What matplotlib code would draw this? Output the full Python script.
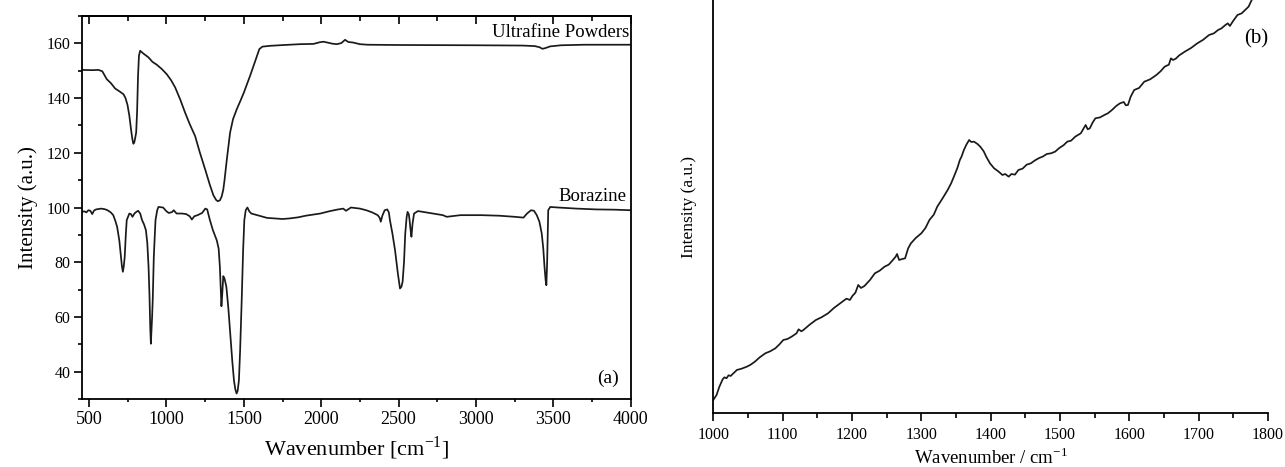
import matplotlib
matplotlib.use("Agg")
import matplotlib.pyplot as plt
from matplotlib.ticker import MultipleLocator

plt.rcParams['font.family'] = ['Liberation Serif', 'DejaVu Serif']
plt.rcParams['mathtext.fontset'] = 'custom'
plt.rcParams['mathtext.rm'] = 'Liberation Serif'

# ---------------- Panel (a): FTIR ----------------
ufp_wavenumber = [453, 520, 560, 585, 614, 640, 668, 700, 722, 735, 748, 760, 772, 780, 786, 792, 798,
                  804, 810, 816, 822, 830, 850, 883, 910, 937, 970, 1002, 1030, 1056, 1090, 1120, 1150,
                  1185, 1215, 1250, 1280, 1303, 1320, 1331, 1345, 1357, 1367, 1375, 1390, 1411, 1430,
                  1454, 1480, 1500, 1540, 1575, 1600, 1620, 1669, 1760, 1863, 1950, 1990, 2014, 2040,
                  2070, 2100, 2130, 2154, 2175, 2206, 2250, 2300, 2500, 3000, 3300, 3380, 3410, 3430,
                  3450, 3480, 3550, 3700, 4000]
ufp_intensity = [150.3, 150.2, 150.3, 149.8, 146.9, 145.5, 143.5, 142.3, 141.4, 140.0, 137.5, 133.5,
                 128.0, 124.8, 123.3, 123.8, 125.5, 127.4, 135.0, 148.0, 155.5, 157.3, 156.3, 154.9,
                 153.2, 152.2, 150.6, 148.7, 146.5, 143.9, 139.3, 134.7, 130.5, 126.1, 120.2, 113.9,
                 108.3, 104.5, 102.8, 102.3, 102.6, 104.1, 106.5, 110.0, 117.6, 127.4, 132.3, 135.9,
                 139.3, 142.0, 148.1, 153.8, 157.9, 158.8, 159.1, 159.4, 159.7, 159.8, 160.4, 160.6,
                 160.3, 159.9, 159.7, 160.1, 161.3, 160.5, 160.3, 159.7, 159.5, 159.4, 159.3, 159.2,
                 159.0, 158.6, 158.0, 158.3, 158.9, 159.3, 159.5, 159.5]

bor_wavenumber = [453, 470, 482, 495, 508, 520, 532, 545, 577, 600, 619, 640, 656, 670, 681, 695, 706,
                  712, 718, 724, 730, 737, 743, 760, 770, 780, 793, 805, 817, 830, 842, 855, 867, 876,
                  884, 890, 895, 899, 903, 907, 911, 918, 929, 940, 948, 978, 1000, 1015, 1035, 1047,
                  1065, 1100, 1127, 1150, 1164, 1180, 1201, 1230, 1251, 1263, 1280, 1300, 1325, 1337,
                  1345, 1351, 1355, 1360, 1367, 1375, 1387, 1400, 1412, 1425, 1436, 1445, 1453, 1460,
                  1468, 1476, 1486, 1495, 1503, 1512, 1523, 1535, 1548, 1600, 1650, 1696, 1750, 1795,
                  1850, 1900, 1994, 2050, 2100, 2142, 2160, 2192, 2250, 2291, 2330, 2365, 2378, 2385,
                  2395, 2410, 2427, 2437, 2444, 2460, 2477, 2495, 2509, 2518, 2526, 2535, 2543, 2552,
                  2558, 2566, 2571, 2577, 2583, 2590, 2600, 2625, 2700, 2786, 2811, 2900, 3034, 3150,
                  3250, 3307, 3330, 3356, 3375, 3393, 3410, 3425, 3435, 3443, 3450, 3455, 3460, 3467,
                  3480, 3529, 3650, 3777, 3900, 4000]
bor_intensity = [98.4, 98.6, 98.2, 99.0, 98.8, 97.6, 98.9, 99.3, 99.6, 99.4, 99.0, 98.2, 97.2, 95.0,
                 92.9, 88.0, 82.0, 78.5, 76.5, 78.5, 82.0, 90.0, 95.4, 97.8, 97.6, 96.6, 97.8, 98.4,
                 98.8, 97.8, 95.4, 93.8, 91.7, 87.0, 78.3, 68.0, 56.0, 50.2, 55.0, 60.0, 66.1, 82.0,
                 95.4, 99.0, 100.2, 100.0, 98.6, 98.0, 98.3, 99.0, 97.8, 97.8, 97.6, 96.8, 95.6, 96.8,
                 97.2, 98.0, 99.6, 99.3, 95.5, 91.7, 88.0, 85.0, 78.3, 70.0, 63.9, 68.0, 74.9, 74.0,
                 71.0, 63.0, 53.9, 44.0, 36.8, 33.5, 32.0, 33.0, 36.8, 48.0, 66.1, 84.0, 95.4, 99.0,
                 100.0, 98.6, 97.8, 97.0, 96.2, 96.0, 95.8, 96.0, 96.4, 97.0, 97.8, 98.6, 99.2, 99.6,
                 98.8, 100.0, 99.6, 99.0, 98.2, 97.2, 96.2, 94.8, 97.0, 99.0, 99.3, 98.2, 95.4, 90.5,
                 84.4, 76.0, 70.4, 71.0, 72.9, 80.0, 90.5, 96.5, 98.4, 97.5, 95.4, 92.0, 89.3, 94.0,
                 97.8, 98.7, 98.0, 97.2, 96.6, 97.2, 97.2, 97.0, 96.6, 96.3, 97.8, 99.0, 98.8, 97.2,
                 94.8, 90.5, 85.0, 78.3, 73.5, 71.6, 80.0, 99.0, 100.2, 100.0, 99.6, 99.3, 99.2, 99.0]

# ---------------- Panel (b): Raman ----------------
raman_wavenumber = [1000, 1004.7, 1008.8, 1013.5, 1016, 1019, 1022, 1025, 1029, 1034, 1041, 1048.5, 1054,
                    1060, 1067, 1075, 1082, 1089.5, 1095, 1101, 1107, 1113, 1120, 1123, 1127, 1130,
                    1139, 1148, 1156, 1165.5, 1174, 1183, 1192, 1197, 1200.6, 1205, 1209, 1213, 1218,
                    1226, 1233, 1240, 1247, 1253, 1259, 1263, 1265, 1268, 1271, 1276.6, 1281, 1285,
                    1292, 1300, 1306, 1311.7, 1318, 1323, 1331, 1338, 1343, 1347, 1352, 1355.6, 1358,
                    1361.4, 1365, 1369, 1372, 1376, 1381, 1385, 1390, 1393.6, 1399, 1405, 1411, 1417,
                    1421, 1426, 1430, 1435, 1440, 1446, 1452, 1458, 1464, 1470, 1475, 1481, 1487, 1493,
                    1499, 1505, 1510.5, 1516, 1522, 1530, 1537, 1540, 1543, 1547, 1551, 1558, 1564,
                    1569, 1575, 1581, 1586.5, 1592, 1595, 1598, 1602, 1607, 1614, 1621.6, 1630, 1639,
                    1645, 1651, 1657, 1660, 1663, 1667, 1672, 1680, 1689, 1698, 1706, 1715, 1722, 1728,
                    1733, 1738, 1742, 1745, 1750, 1756, 1762, 1768, 1772, 1776.5]
raman_intensity = [4.0, 5.5, 8.0, 10.2, 10.8, 10.5, 11.4, 11.2, 12.0, 13.0, 13.4, 14.0, 14.6,
                   15.5, 16.8, 18.0, 18.6, 19.5, 20.6, 22.0, 22.3, 23.0, 24.0, 25.2, 24.6, 25.0,
                   26.6, 28.0, 28.8, 30.0, 31.6, 33.0, 34.4, 34.0, 35.2, 36.2, 38.5, 37.6, 38.2,
                   40.0, 42.0, 42.8, 44.0, 44.6, 46.0, 47.0, 47.8, 46.0, 46.2, 46.5, 49.5, 51.0,
                   52.6, 54.0, 55.6, 58.0, 59.6, 62.0, 64.6, 67.0, 69.0, 71.0, 73.6, 76.0, 77.0,
                   79.0, 80.6, 82.0, 81.4, 81.5, 80.8, 80.0, 78.6, 77.0, 75.0, 73.5, 72.6, 71.5,
                   71.8, 71.0, 71.8, 71.6, 73.0, 73.4, 74.6, 75.0, 75.9, 76.6, 77.0, 77.8, 78.0, 78.5,
                   79.6, 80.4, 81.5, 81.8, 83.0, 84.0, 86.5, 85.2, 85.5, 87.2, 88.5, 88.8, 89.5,
                   90.0, 91.0, 92.2, 93.0, 93.4, 92.4, 92.5, 95.0, 97.0, 97.6, 99.5, 100.2, 101.5,
                   102.6, 104.0, 104.6, 106.5, 106.0, 106.4, 107.4, 108.5, 109.6, 111.0, 112.0, 113.5,
                   114.0, 115.0, 115.5, 116.4, 117.0, 116.2, 117.8, 119.5, 120.0, 121.2, 122.0, 124.0]

W, H = 1285, 467
fig = plt.figure(figsize=(W / 100, H / 100), dpi=100)
line_color = '#1a1a1a'

# ---- left axes ----
axa = fig.add_axes([81.7 / W, 1 - 399 / H, 549 / W, 383 / H])
axa.plot(ufp_wavenumber, ufp_intensity, color=line_color, lw=1.25)
axa.plot(bor_wavenumber, bor_intensity, color=line_color, lw=1.25)
axa.set_xlim(452, 4000)
axa.set_ylim(30, 170)
axa.xaxis.set_major_locator(MultipleLocator(500))
axa.xaxis.set_minor_locator(MultipleLocator(250))
axa.yaxis.set_major_locator(MultipleLocator(20))
axa.yaxis.set_minor_locator(MultipleLocator(10))
axa.tick_params(axis='x', which='major', direction='out', length=6, width=1.2, labelsize=13, pad=3)
axa.tick_params(axis='x', which='minor', direction='out', length=2.5, width=1.2)
axa.tick_params(axis='y', which='major', direction='out', length=6, width=1.2, labelsize=11.5, pad=2)
axa.tick_params(axis='y', which='minor', direction='out', length=3, width=1.2)
for sp in axa.spines.values():
    sp.set_linewidth(1.3)
top = axa.secondary_xaxis('top')
top.xaxis.set_major_locator(MultipleLocator(500))
top.xaxis.set_minor_locator(MultipleLocator(250))
top.tick_params(axis='x', which='major', direction='in', length=6, width=1.2, labeltop=False)
top.tick_params(axis='x', which='minor', direction='in', length=3.5, width=1.2)
top.spines['top'].set_linewidth(1.3)
axa.set_xlabel('Wavenumber [cm$^{\\mathregular{-1}}$]', fontsize=16, labelpad=4)
axa.set_ylabel('Intensity (a.u.)', fontsize=15, labelpad=6)
axa.text(3990, 164, 'Ultrafine Powders', ha='right', va='center', fontsize=13.5)
axa.text(3975, 104, 'Borazine', ha='right', va='center', fontsize=13.5)
axa.text(3924, 37.7, '(a)', ha='right', va='center', fontsize=14)

# ---- right axes ----
axb = fig.add_axes([713.3 / W, 1 - 413.3 / H, 554.7 / W, 413.3 / H])
axb.plot(raman_wavenumber, raman_intensity, color=line_color, lw=1.25)
axb.set_xlim(1000, 1800)
axb.set_ylim(0, 124)
axb.xaxis.set_major_locator(MultipleLocator(100))
axb.xaxis.set_minor_locator(MultipleLocator(50))
axb.tick_params(axis='x', which='major', direction='out', length=6, width=1.2, labelsize=11.5, pad=4)
axb.tick_params(axis='x', which='minor', direction='out', length=3.5, width=1.2)
axb.set_yticks([])
axb.spines['top'].set_visible(False)
axb.spines['right'].set_visible(False)
axb.spines['left'].set_linewidth(1.3)
axb.spines['bottom'].set_linewidth(1.3)
axb.set_xlabel('Wavenumber / cm$^{\\mathregular{-1}}$', fontsize=13.5, labelpad=3)
axb.set_ylabel('Intensity (a.u.)', fontsize=12.5, labelpad=12)
axb.text(1.0, 1 - 39 / 413.3, '(b)', transform=axb.transAxes, ha='right', va='center', fontsize=15)

fig.savefig('out.png', dpi=100)
